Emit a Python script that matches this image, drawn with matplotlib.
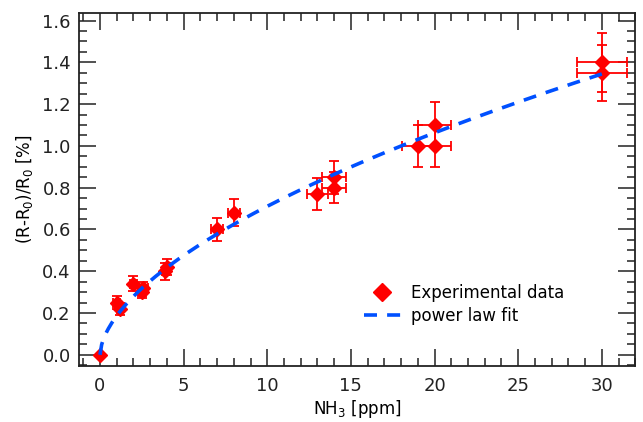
import numpy as np
import matplotlib
matplotlib.use("Agg")
import matplotlib.pyplot as plt
from matplotlib.ticker import MultipleLocator
from matplotlib.lines import Line2D

# NH3 concentration (ppm) and relative resistance change (%)
nh3 = [0, 1.0, 1.2, 2.0, 2.5, 2.6, 3.9, 4.0, 7, 8, 13, 14, 14, 19, 20, 20, 30, 30]
resp = [0.0, 0.25, 0.22, 0.34, 0.30, 0.32, 0.40, 0.42, 0.60, 0.68,
        0.77, 0.80, 0.85, 1.00, 1.00, 1.10, 1.35, 1.40]
nh3_err = [0, 0.2, 0.2, 0.2, 0.25, 0.25, 0.2, 0.2, 0.35, 0.35,
           0.65, 0.7, 0.7, 0.95, 1.0, 1.0, 1.5, 1.5]
resp_err = [0, 0.03, 0.03, 0.035, 0.03, 0.03, 0.04, 0.04, 0.055, 0.065,
            0.075, 0.075, 0.08, 0.10, 0.10, 0.11, 0.135, 0.14]

# power law fit  y = A * x**B
FIT_A = 0.187
FIT_B = 0.58

plt.rcParams['font.family'] = ['DejaVu Sans']

fig = plt.figure(figsize=(6.43, 4.22), dpi=100)
ax = fig.add_axes([0.123, 0.133, 0.865, 0.836])

ax.errorbar(nh3, resp, xerr=nh3_err, yerr=resp_err, fmt='D', color='#ff0000',
            ecolor='#ff0000', markersize=7.5, elinewidth=1.3, capsize=3.5,
            capthick=1.3, zorder=3)

xfit = np.linspace(0, 30, 300)
ax.plot(xfit, FIT_A * xfit ** FIT_B, color='#0050ff', lw=2.6,
        dashes=(3.6, 2.8), zorder=4)

ax.set_xlim(-1.25, 32)
ax.set_ylim(-0.053, 1.636)
ax.xaxis.set_major_locator(MultipleLocator(5))
ax.xaxis.set_minor_locator(MultipleLocator(1))
ax.yaxis.set_major_locator(MultipleLocator(0.2))
ax.yaxis.set_minor_locator(MultipleLocator(0.05))
ax.yaxis.set_major_formatter(matplotlib.ticker.FormatStrFormatter('%.1f'))

ax.tick_params(which='both', direction='in', top=True, right=True,
               width=1.1, colors='#222222', labelsize=13)
ax.tick_params(which='major', length=12)
ax.tick_params(which='minor', length=5.5)
ax.tick_params(axis='x', pad=8)
ax.tick_params(axis='y', pad=6)
for s in ax.spines.values():
    s.set_linewidth(1.3)
    s.set_color('#222222')

ax.set_xlabel('NH$_3$ [ppm]', fontsize=12, labelpad=2)
ax.set_ylabel('(R-R$_0$)/R$_0$ [%]', fontsize=12, labelpad=5)

handles = [Line2D([], [], marker='D', color='#ff0000', ls='none', markersize=9),
           Line2D([], [], color='#0050ff', lw=2.6, dashes=(3.6, 2.8))]
ax.legend(handles, ['Experimental data', 'power law fit'], loc='upper left',
          bbox_to_anchor=(0.485, 0.275), frameon=False, fontsize=12,
          handlelength=2.2, handletextpad=0.6, labelspacing=0.3)

fig.savefig('out.png', dpi=100)
